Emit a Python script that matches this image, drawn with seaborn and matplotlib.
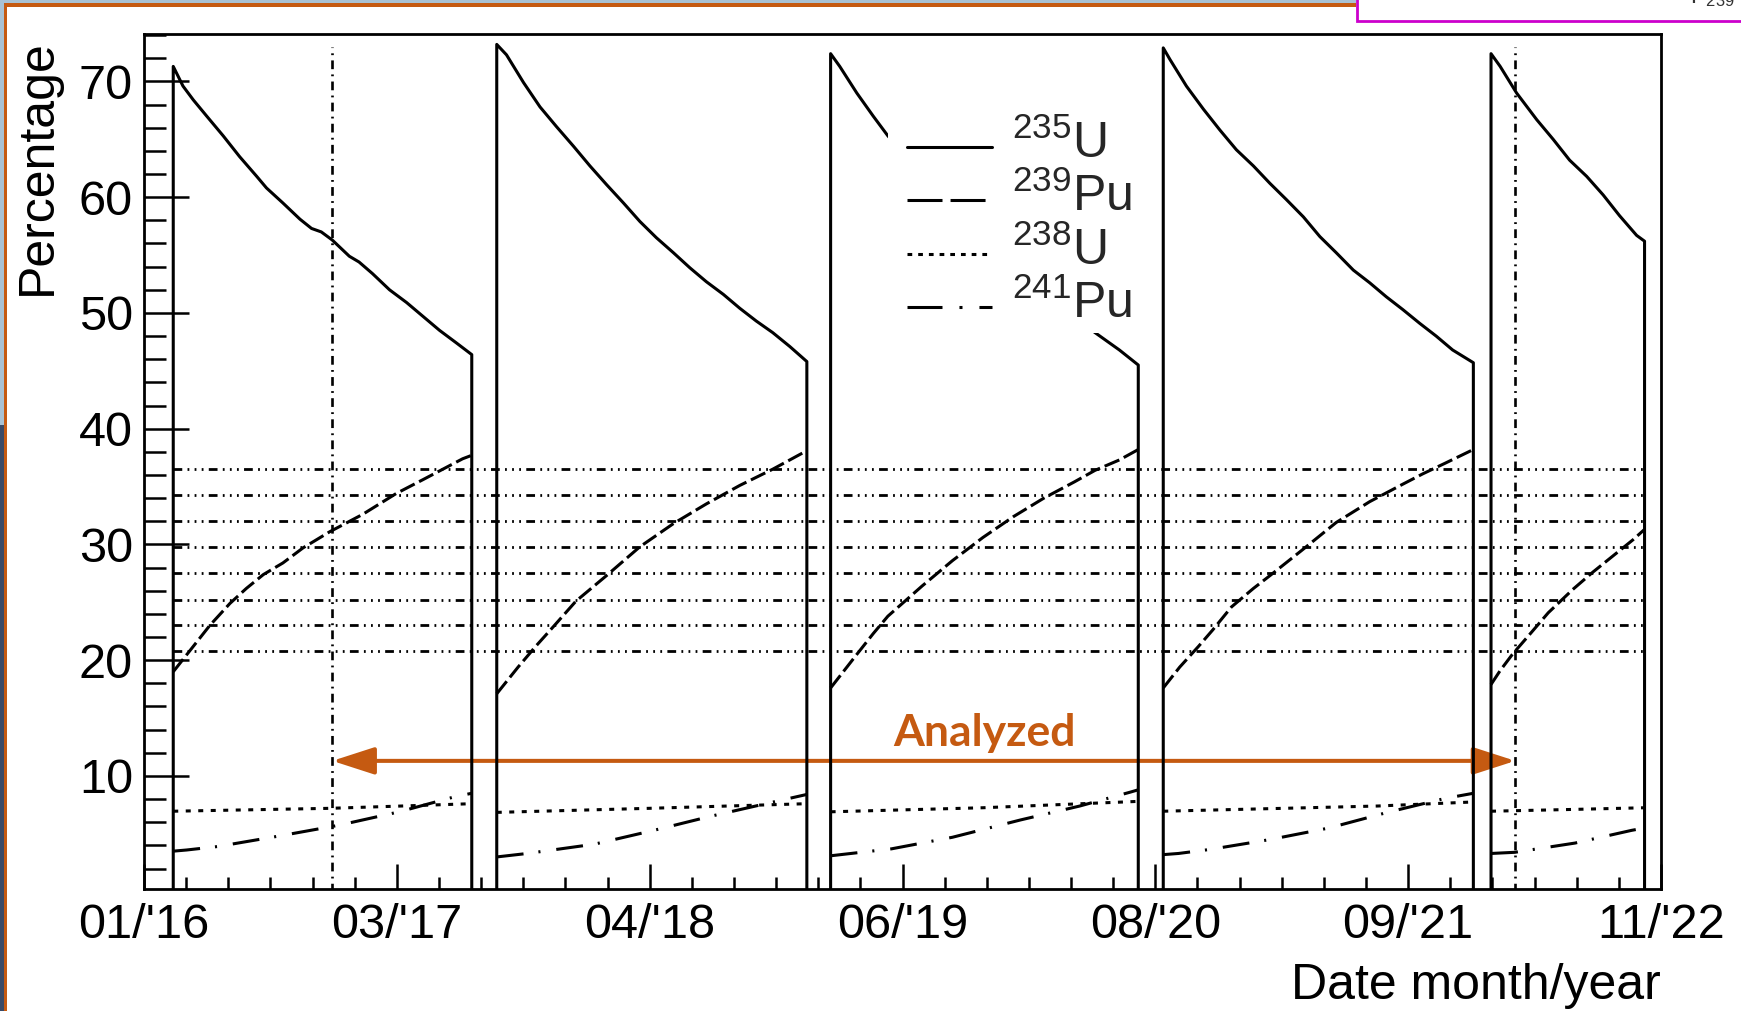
import numpy as np
import pandas as pd
import matplotlib
matplotlib.use("Agg")
import matplotlib.pyplot as plt
import matplotlib.dates as mdates
from matplotlib.lines import Line2D
from matplotlib.patches import Rectangle
from matplotlib.ticker import MultipleLocator
from matplotlib.legend_handler import HandlerLine2D
import seaborn as sns

# ---------------------------------------------------------------------------
# Reactor fuel cycles (start / end of each cycle)
CYCLE_START = ["2016-03-06", "2017-08-19", "2019-02-18", "2020-08-17", "2022-02-06"]
CYCLE_END = ["2017-07-09", "2019-01-10", "2020-07-07", "2022-01-08", "2022-10-16"]

# Fission fractions (%) versus days into each cycle, one list per cycle
U235_DAYS = [
    [0, 0, 16, 33, 55, 82, 109, 137, 153, 180, 208, 227, 243, 261, 289, 305, 327, 355, 383, 410, 437, 465, 490, 490],
    [0, 0, 16, 44, 71, 98, 126, 153, 180, 208, 235, 262, 290, 317, 344, 372, 399, 426, 453, 481, 509, 509],
    [0, 0, 15, 43, 70, 94, 150, 200, 250, 300, 350, 400, 434, 474, 505, 505],
    [0, 0, 11, 38, 66, 93, 120, 148, 175, 202, 230, 257, 284, 312, 339, 366, 393, 421, 448, 475, 509, 509],
    [0, 0, 15, 42, 75, 102, 129, 157, 184, 211, 239, 252, 252],
]
U235_PCT = [
    [0, 71.3, 69.6, 68.4, 67.0, 65.3, 63.5, 61.8, 60.8, 59.5, 58.1, 57.3, 57.0, 56.3, 54.9, 54.4, 53.4, 52.0, 50.9, 49.7, 48.5, 47.4, 46.4, 0],
    [0, 73.2, 72.3, 69.9, 67.8, 66.1, 64.4, 62.7, 61.1, 59.5, 57.9, 56.5, 55.2, 53.9, 52.7, 51.6, 50.4, 49.3, 48.3, 47.1, 45.8, 0],
    [0, 72.4, 71.3, 69.0, 67.0, 65.3, 62.0, 59.1, 56.4, 54.0, 51.8, 49.7, 48.3, 46.8, 45.5, 0],
    [0, 72.9, 71.9, 69.6, 67.6, 65.8, 64.1, 62.7, 61.2, 59.8, 58.3, 56.6, 55.2, 53.7, 52.6, 51.4, 50.3, 49.1, 48.0, 46.8, 45.7, 0],
    [0, 72.4, 71.3, 69.0, 66.7, 65.0, 63.2, 61.8, 60.2, 58.4, 56.7, 56.2, 0],
]
PU239_DAYS = [
    [0, 6, 33, 60, 93, 120, 148, 180, 213, 257, 311, 366, 410, 475, 490],
    [0, 35, 64, 93, 130, 180, 235, 290, 344, 399, 453, 509],
    [0, 43, 70, 94, 150, 200, 250, 300, 350, 400, 434, 474, 505],
    [0, 27, 58, 81, 112, 148, 175, 230, 284, 339, 393, 426, 462, 509],
    [0, 15, 35, 63, 94, 134, 167, 200, 233, 252],
]
PU239_PCT = [
    [19.0, 19.4, 21.2, 23.0, 24.9, 26.2, 27.4, 28.4, 29.7, 31.1, 32.6, 34.4, 35.6, 37.4, 37.7],
    [17.1, 19.4, 21.2, 22.9, 25.1, 27.3, 29.8, 31.8, 33.5, 35.1, 36.5, 38.1],
    [17.6, 20.5, 22.3, 23.8, 26.4, 28.6, 30.6, 32.4, 34.0, 35.4, 36.4, 37.3, 38.2],
    [17.6, 19.4, 21.2, 22.6, 24.6, 26.2, 27.3, 29.6, 31.9, 33.7, 35.2, 36.1, 37.0, 38.2],
    [17.9, 19.1, 20.5, 22.2, 24.1, 26.1, 27.6, 29.0, 30.4, 31.3],
]
U238_DAYS = [[0, 257, 375, 490], [0, 250, 509], [0, 250, 505], [0, 197, 352, 509], [0, 130, 252]]
U238_PCT = [[6.95, 7.2, 7.4, 7.6], [6.85, 7.2, 7.6], [6.9, 7.25, 7.8], [6.95, 7.2, 7.4, 7.75], [6.95, 7.1, 7.25]]
PU241_DAYS = [
    [0, 22, 73, 173, 273, 371, 462, 490],
    [0, 50, 160, 258, 350, 450, 509],
    [0, 100, 200, 312, 409, 492, 505],
    [0, 25, 77, 175, 272, 368, 462, 509],
    [0, 39, 138, 231, 252],
]
PU241_PCT = [
    [3.5, 3.6, 3.9, 4.8, 5.75, 6.9, 8.2, 8.5],
    [3.0, 3.3, 4.1, 5.3, 6.5, 7.7, 8.4],
    [3.1, 3.7, 4.7, 6.2, 7.4, 8.6, 8.8],
    [3.2, 3.3, 3.65, 4.5, 5.5, 6.85, 8.05, 8.5],
    [3.3, 3.4, 4.2, 5.3, 5.5],
]

ISOTOPES = ["235U", "239Pu", "238U", "241Pu"]
LEGEND_LABELS = [r"$^{235}$U", r"$^{239}$Pu", r"$^{238}$U", r"$^{241}$Pu"]

# Reference levels and the analysed data window
HLINE_LEVELS = [20.8, 23.0, 25.2, 27.5, 29.8, 32.0, 34.3, 36.5]
WINDOW_DATES = ["2016-11-22", "2022-03-18"]
WINDOW_TOP = 73.0
ARROW_Y = 11.3
ANALYZED_DATE = "2019-10-29"
ANALYZED_Y = 12.6

# Axes
XLIM = ("2016-01-18", "2022-11-12")
YLIM = (0.23, 74.1)
TICK_LABELS = ["01/'16", "03/'17", "04/'18", "06/'19", "08/'20", "09/'21", "11/'22"]

# ---------------------------------------------------------------------------
W, H = 1741, 1011
ORANGE = "#C55A11"

sns.set_theme(style="white")
plt.rcParams["font.family"] = ["Liberation Sans", "DejaVu Sans"]
plt.rcParams["mathtext.fontset"] = "custom"
plt.rcParams["mathtext.rm"] = "Liberation Sans"
plt.rcParams["mathtext.it"] = "Liberation Sans:italic"
plt.rcParams["mathtext.bf"] = "Liberation Sans:bold"
plt.rcParams["mathtext.default"] = "regular"
plt.rcParams["lines.scale_dashes"] = False


class LoweredLineHandler(HandlerLine2D):
    """Legend line sample drawn a little below the default height."""

    def __init__(self, dy, **kw):
        super().__init__(**kw)
        self._dy = dy

    def create_artists(self, legend, orig_handle, xdescent, ydescent,
                       width, height, fontsize, trans):
        artists = super().create_artists(legend, orig_handle, xdescent, ydescent,
                                         width, height, fontsize, trans)
        for a in artists:
            a.set_ydata(np.asarray(a.get_ydata(), dtype=float) + self._dy)
        return artists


# long-format table of all curves
rows = []
for iso, days_all, pct_all in [
    ("235U", U235_DAYS, U235_PCT),
    ("239Pu", PU239_DAYS, PU239_PCT),
    ("238U", U238_DAYS, U238_PCT),
    ("241Pu", PU241_DAYS, PU241_PCT),
]:
    for k, (days, pcts) in enumerate(zip(days_all, pct_all)):
        start = pd.Timestamp(CYCLE_START[k])
        for d, p in zip(days, pcts):
            rows.append({"date": start + pd.Timedelta(days=d), "pct": p,
                         "isotope": iso, "cycle": k})
df = pd.DataFrame(rows)

fig = plt.figure(figsize=(W / 100, H / 100), dpi=100)
fig.patch.set_facecolor("white")
ax = fig.add_axes([144 / W, 1 - 889 / H, (1661 - 144) / W, (889 - 34) / H])

curve_dashes = {
    "235U": "",
    "239Pu": (11.5, 3.6),
    "238U": (3.6, 5.4),
    "241Pu": (19.4, 10.8, 1.5, 11.5),
}
sns.lineplot(data=df, x="date", y="pct", style="isotope", style_order=ISOTOPES,
             units="cycle", estimator=None, sort=False, color="black",
             dashes=curve_dashes, linewidth=2.2, legend=False, ax=ax, zorder=3)

num = lambda s: mdates.date2num(pd.Timestamp(s))

# horizontal reference levels spanning the data-taking period
ax.hlines(HLINE_LEVELS, num(CYCLE_START[0]), num(CYCLE_END[-1]), colors="black",
          linewidth=2.0, zorder=2,
          linestyles=[(0, (6.3, 3.8, 1.3, 3.8, 1.3, 3.8, 1.3, 3.8))])
# analysis window boundaries
ax.vlines([num(d) for d in WINDOW_DATES], 0, WINDOW_TOP, colors="black",
          linewidth=1.9, zorder=2, linestyles=[(0, (6.3, 3.8, 1.3, 3.8))])

# double arrow marking the analysed period
ax.annotate("", xy=(num(WINDOW_DATES[1]), ARROW_Y), xytext=(num(WINDOW_DATES[0]), ARROW_Y),
            arrowprops=dict(arrowstyle="<|-|>,head_length=1.3,head_width=0.42",
                            mutation_scale=20, color=ORANGE, lw=2.9,
                            shrinkA=0, shrinkB=0), zorder=1.8)
ax.text(num(ANALYZED_DATE), ANALYZED_Y, "Analyzed", ha="center", va="baseline",
        fontsize=32, fontweight="bold", family=["Lato", "DejaVu Sans"], color=ORANGE,
        zorder=4)

# axes ranges and ticks
x0, x1 = num(XLIM[0]), num(XLIM[1])
ax.set_xlim(x0, x1)
ax.set_ylim(*YLIM)
ax.set_xticks(np.linspace(x0, x1, len(TICK_LABELS)), labels=TICK_LABELS)
ax.set_xticks(np.linspace(x0, x1, 6 * (len(TICK_LABELS) - 1) + 1), minor=True)
ax.yaxis.set_major_locator(MultipleLocator(10))
ax.yaxis.set_minor_locator(MultipleLocator(2))
ax.tick_params(axis="both", which="both", direction="in", top=False, right=False,
               bottom=True, left=True, width=1.8, color="black",
               labelcolor="black", labelsize=35)
ax.tick_params(axis="y", which="major", length=32.4, pad=8)
ax.tick_params(axis="y", which="minor", length=15.8)
ax.tick_params(axis="x", which="major", length=18, pad=10)
ax.tick_params(axis="x", which="minor", length=8.3)
for sp in ax.spines.values():
    sp.set_color("black")
    sp.set_linewidth(2.0)
    sp.set_visible(True)
ax.grid(False)

ax.set_xlabel("Date month/year", fontsize=36, loc="right", color="black")
ax.xaxis.set_label_coords(1.0, (889 - 963) / 855)
ax.set_ylabel("Percentage", fontsize=36, loc="top", color="black")
ax.yaxis.set_label_coords((60.5 - 144) / 1517, (889 - 39) / 855)

# legend on a white panel that masks the curves behind it
ax.add_patch(Rectangle((888 / W, 1 - 333 / H), (1125 - 888) / W, (333 - 100) / H,
                       transform=fig.transFigure, facecolor="white",
                       edgecolor="none", zorder=9))
legend_dashes = {
    "235U": "-",
    "239Pu": (0, (25.2, 5.8)),
    "238U": (0, (3.4, 4.3)),
    "241Pu": (0, (25.2, 12.2, 2.2, 12.2)),
}
handles = [Line2D([], [], color="black", lw=2.2, linestyle=legend_dashes[i]) for i in ISOTOPES]
leg = ax.legend(handles, LEGEND_LABELS, loc="upper left",
                bbox_to_anchor=(907 / W, 1 - 120 / H), bbox_transform=fig.transFigure,
                frameon=False, fontsize=36, handlelength=61 / 36,
                handletextpad=14.4 / 36, borderpad=0, borderaxespad=0,
                labelspacing=0.104,
                handler_map={Line2D: LoweredLineHandler(-4.6)})
leg.set_zorder(10)

# slide surroundings
fig.add_artist(Rectangle((0, 1 - 3 / H), 1356 / W, 3 / H, transform=fig.transFigure,
                         facecolor="#a9c2d4", edgecolor="none"))
fig.add_artist(Rectangle((0, 1 - 6.5 / H), 1356 / W, 3.5 / H, transform=fig.transFigure,
                         facecolor=ORANGE, edgecolor="none"))
fig.add_artist(Rectangle((0, 0.58), 3.5 / W, 0.42, transform=fig.transFigure,
                         facecolor="#a9c2d4", edgecolor="none"))
fig.add_artist(Rectangle((0, 0), 3.5 / W, 0.58, transform=fig.transFigure,
                         facecolor="#3a4a66", edgecolor="none"))
fig.add_artist(Rectangle((3.5 / W, 0), 3.5 / W, 1 - 3 / H, transform=fig.transFigure,
                         facecolor=ORANGE, edgecolor="none"))
fig.add_artist(Rectangle((1357 / W, 1 - 20.7 / H), 500 / W, 40 / H, transform=fig.transFigure,
                         facecolor="white", edgecolor="#cc00cc", linewidth=2.0))
fig.text(1690 / W, 1 - 3 / H, r"$P_{239}$", fontsize=17, math_fontfamily="cm",
         ha="left", va="baseline", color="#333333")

fig.savefig("out.png", dpi=100)
